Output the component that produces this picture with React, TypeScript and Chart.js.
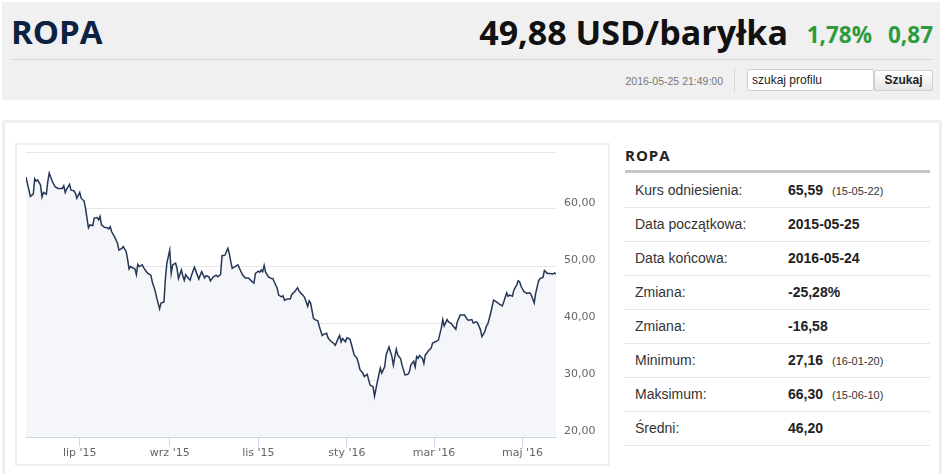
import React, { useEffect, useRef } from 'react';
import { Chart, registerables } from 'chart.js';

Chart.register(...registerables);

// days since 2015-05-25
const days = [0, 3, 5, 6, 7, 8, 10, 11, 12, 14, 15, 16, 18, 20, 22, 25, 26, 27, 28, 30, 31, 33, 34, 35, 37, 38, 40, 41, 42, 43, 44, 46, 47, 49, 50, 51, 52, 54, 56, 57, 58, 59, 61, 63, 64, 66, 67, 69, 70, 71, 72, 74, 75, 76, 77, 78, 80, 81, 83, 84, 86, 87, 88, 89, 90, 92, 93, 95, 96, 97, 99, 100, 101, 103, 104, 105, 107, 108, 109, 110, 111, 113, 114, 116, 117, 119, 120, 121, 123, 124, 126, 127, 129, 131, 132, 134, 135, 137, 139, 140, 141, 142, 144, 146, 147, 149, 151, 153, 154, 156, 157, 158, 160, 161, 162, 163, 164, 165, 167, 169, 170, 171, 173, 174, 176, 177, 178, 180, 182, 183, 185, 187, 188, 191, 192, 194, 195, 196, 198, 199, 201, 202, 204, 205, 207, 208, 210, 212, 213, 215, 216, 217, 218, 220, 221, 223, 224, 226, 228, 229, 230, 232, 233, 235, 236, 237, 239, 240, 242, 244, 245, 247, 248, 250, 252, 253, 255, 256, 258, 259, 261, 263, 264, 265, 267, 268, 269, 270, 271, 273, 274, 275, 276, 277, 279, 280, 282, 284, 286, 287, 288, 290, 291, 293, 294, 296, 297, 299, 301, 302, 304, 305, 307, 308, 310, 311, 313, 314, 316, 317, 318, 320, 321, 322, 324, 326, 328, 329, 331, 332, 333, 335, 336, 338, 339, 340, 341, 343, 345, 347, 348, 350, 351, 353, 354, 356, 357, 359, 361, 363, 364, 365];

const prices = [65.6, 62.2, 62.6, 65.3, 64.9, 65.1, 64.2, 62.1, 62.9, 62.6, 64.8, 66.3, 64.9, 63.9, 63.6, 63.6, 64.1, 62.9, 63.5, 64.3, 63.3, 63.2, 62.8, 61.9, 62.9, 61.9, 61.4, 60.1, 58.4, 56.7, 57.2, 57.1, 58.4, 58.5, 58.1, 58.7, 57.2, 56.8, 56.7, 56.5, 56.9, 56.0, 55.1, 54.0, 52.8, 53.1, 53.4, 52.5, 51.1, 49.5, 49.9, 49.6, 49.5, 48.5, 50.3, 49.9, 50.2, 49.7, 49.0, 48.7, 48.4, 47.2, 46.4, 45.6, 44.4, 42.5, 43.5, 43.7, 47.8, 50.5, 52.8, 48.7, 50.2, 50.5, 49.6, 47.8, 49.3, 48.3, 47.5, 48.5, 48.1, 47.5, 48.4, 49.8, 49.1, 47.7, 48.4, 49.0, 47.9, 48.3, 48.1, 47.4, 48.1, 48.4, 48.1, 48.5, 51.8, 51.9, 53.1, 52.2, 50.8, 49.6, 49.9, 50.2, 49.6, 48.5, 47.9, 47.9, 47.7, 47.2, 47.0, 48.7, 49.1, 48.9, 49.3, 49.0, 50.1, 48.9, 48.1, 47.8, 47.8, 47.2, 46.1, 44.9, 44.6, 44.8, 44.0, 44.2, 44.2, 45.0, 45.5, 46.2, 45.6, 44.8, 44.4, 42.9, 43.9, 43.5, 40.8, 40.6, 40.4, 39.4, 37.8, 38.0, 38.2, 37.4, 36.8, 36.4, 36.1, 37.3, 37.8, 36.7, 37.3, 36.7, 37.4, 37.2, 36.4, 34.4, 33.8, 32.9, 31.8, 31.2, 30.6, 31.0, 30.0, 29.1, 28.8, 27.16, 29.7, 32.1, 31.2, 32.3, 34.4, 35.8, 34.1, 32.6, 35.4, 34.4, 33.7, 32.6, 30.9, 31.0, 31.4, 32.6, 33.3, 32.3, 34.1, 33.8, 34.3, 33.8, 32.9, 34.4, 34.7, 35.1, 35.6, 36.5, 36.7, 37.0, 39.1, 40.6, 39.5, 40.6, 40.2, 39.9, 39.5, 38.9, 40.2, 41.4, 41.4, 41.4, 40.6, 40.5, 40.6, 40.0, 40.2, 40.0, 38.8, 37.6, 38.5, 39.4, 39.8, 41.7, 42.9, 44.0, 43.7, 43.3, 43.0, 43.7, 45.3, 44.7, 44.9, 44.7, 45.8, 46.7, 47.4, 47.2, 46.4, 45.5, 45.2, 45.3, 44.9, 43.5, 45.2, 47.4, 47.8, 48.0, 49.2, 48.7, 48.7, 48.6, 48.8, 48.6];

const tickDays = [37, 99, 160, 221, 281, 342];
const tickLabels = ["lip '15", "wrz '15", "lis '15", "sty '16", "mar '16", "maj '16"];
const yTicks = [20, 30, 40, 50, 60, 70];

const statLabels = ['Kurs odniesienia:', 'Data początkowa:', 'Data końcowa:', 'Zmiana:', 'Zmiana:', 'Minimum:', 'Maksimum:', 'Średni:'];
const statValues = ['65,59', '2015-05-25', '2016-05-24', '-25,28%', '-16,58', '27,16', '66,30', '46,20'];
const statDates = ['(15-05-22)', '', '', '', '', '(16-01-20)', '(15-06-10)', ''];

const OPEN = '"Open Sans", sans-serif';
const ARIAL = '"Liberation Sans", Arial, sans-serif';

export default function App() {
  const ref = useRef<HTMLCanvasElement>(null);

  useEffect(() => {
    if (!ref.current) return;
    const chart = new Chart(ref.current, {
      type: 'line',
      data: {
        datasets: [
          {
            data: days.map((d, i) => ({ x: d, y: prices[i] })),
            borderColor: '#243755',
            borderWidth: 1.5,
            backgroundColor: '#f4f6f9',
            fill: 'start',
            pointRadius: 0,
            tension: 0,
          },
        ],
      },
      options: {
        animation: false,
        responsive: false,
        maintainAspectRatio: false,
        layout: { padding: { left: 9, top: 7, right: 0, bottom: 0 } },
        plugins: { legend: { display: false }, tooltip: { enabled: false } },
        scales: {
          x: {
            type: 'linear',
            min: 0,
            max: 365,
            afterBuildTicks: (s: any) => {
              s.ticks = tickDays.map((v) => ({ value: v }));
            },
            afterFit: (s: any) => {
              s.height = 27;
              s.paddingLeft = 0;
              s.paddingRight = 0;
            },
            ticks: {
              callback: (v: any) => {
                const i = tickDays.indexOf(Number(v));
                return i >= 0 ? tickLabels[i] : '';
              },
              color: '#666666',
              font: { family: '"DejaVu Sans", sans-serif', size: 11 },
              padding: 0,
              maxRotation: 0,
              autoSkip: false,
            },
            grid: { drawOnChartArea: false, drawTicks: true, tickLength: 10, color: '#ccd6eb' },
            border: { display: true, color: '#ccd6eb' },
          },
          y: {
            position: 'right',
            min: 20,
            max: 70,
            afterBuildTicks: (s: any) => {
              s.ticks = yTicks.map((v) => ({ value: v }));
            },
            afterFit: (s: any) => {
              s.width = 53;
              s.paddingTop = 0;
              s.paddingBottom = 0;
            },
            ticks: {
              callback: (v: any) => (Number(v) === 70 ? '' : Number(v).toFixed(2).replace('.', ',')),
              color: '#666666',
              font: { family: '"DejaVu Sans", sans-serif', size: 11 },
              padding: 8,
              labelOffset: -6,
            },
            grid: {
              drawTicks: false,
              color: (c: any) => (c.tick && c.tick.value === 20 ? 'rgba(0,0,0,0)' : '#e6e6e6'),
            },
            border: { display: false },
          },
        },
      },
    });
    return () => chart.destroy();
  }, []);

  const abs = (o: React.CSSProperties): React.CSSProperties => ({ position: 'absolute', ...o });

  return (
    <div style={abs({ left: 0, top: 0, width: 945, height: 474, background: '#fff', overflow: 'hidden' })}>
      {/* header */}
      <div style={abs({ left: 2, top: 2, width: 938, height: 98, background: '#f0f0f0' })} />
      <div style={abs({ left: 11, top: 15, fontFamily: OPEN, fontWeight: 700, fontSize: 33, lineHeight: '33px', color: '#0d2142', whiteSpace: 'nowrap' })}>ROPA</div>
      <div style={abs({ right: 157, top: 15, fontFamily: OPEN, fontWeight: 700, fontSize: 34, lineHeight: '34px', color: '#111', whiteSpace: 'nowrap' })}>49,88 USD/baryłka</div>
      <div style={abs({ right: 73, top: 24, fontFamily: OPEN, fontWeight: 700, fontSize: 22.5, lineHeight: '22px', color: '#2e9a3e', whiteSpace: 'nowrap' })}>1,78%</div>
      <div style={abs({ right: 12, top: 24, fontFamily: OPEN, fontWeight: 700, fontSize: 22.5, lineHeight: '22px', color: '#2e9a3e', whiteSpace: 'nowrap' })}>0,87</div>
      <div style={abs({ left: 11, top: 59, width: 922, height: 1, background: '#d6d6d6' })} />
      <div style={abs({ right: 222, top: 74, fontFamily: ARIAL, fontSize: 10.5, lineHeight: '14px', color: '#777', whiteSpace: 'nowrap' })}>2016-05-25 21:49:00</div>
      <div style={abs({ left: 734, top: 68, width: 1, height: 25, background: '#d8d8d8' })} />
      <div style={abs({ left: 747, top: 69, width: 121, height: 20, background: '#fff', border: '1px solid #cfcfcf', borderRadius: 2, fontFamily: ARIAL, fontSize: 12, lineHeight: '20px', color: '#222', paddingLeft: 4, boxSizing: 'content-box' as any, whiteSpace: 'nowrap' })}>szukaj profilu</div>
      <div style={abs({ left: 874, top: 70, width: 57, height: 19, background: 'linear-gradient(#ffffff, #e6e6e6)', border: '1px solid #cfcfcf', borderRadius: 2, fontFamily: ARIAL, fontWeight: 700, fontSize: 12, lineHeight: '19px', color: '#222', textAlign: 'center' })}>Szukaj</div>

      {/* content box */}
      <div style={abs({ left: 2, top: 120, width: 934, height: 360, border: '3px solid #efefef' })} />
      <div style={abs({ left: 15, top: 143, width: 591, height: 319, border: '2px solid #efefef' })} />
      <canvas ref={ref} width={592} height={319} style={abs({ left: 17, top: 145, width: 592, height: 319 })} />

      {/* stats table */}
      <div style={abs({ left: 625, top: 145, fontFamily: OPEN, fontWeight: 700, fontSize: 15, lineHeight: '20px', letterSpacing: 1, color: '#222', whiteSpace: 'nowrap' })}>ROPA</div>
      <div style={abs({ left: 625, top: 170, width: 305, height: 3, background: '#c6c6c6' })} />
      {statLabels.map((lab, i) => (
        <div key={i} style={abs({ left: 625, top: 173.5 + i * 34, width: 305, height: 33, borderBottom: '1px solid #e6e6e6', fontFamily: ARIAL, fontSize: 14, lineHeight: '33px', color: '#333', whiteSpace: 'nowrap' })}>
          <span style={abs({ left: 10, top: 0 })}>{lab}</span>
          <span style={abs({ left: 163, top: 0, fontWeight: 700, color: '#222' })}>
            {statValues[i]}
            {statDates[i] ? <span style={{ fontWeight: 400, fontSize: 11, color: '#333', marginLeft: 9 }}>{statDates[i]}</span> : null}
          </span>
        </div>
      ))}
    </div>
  );
}
